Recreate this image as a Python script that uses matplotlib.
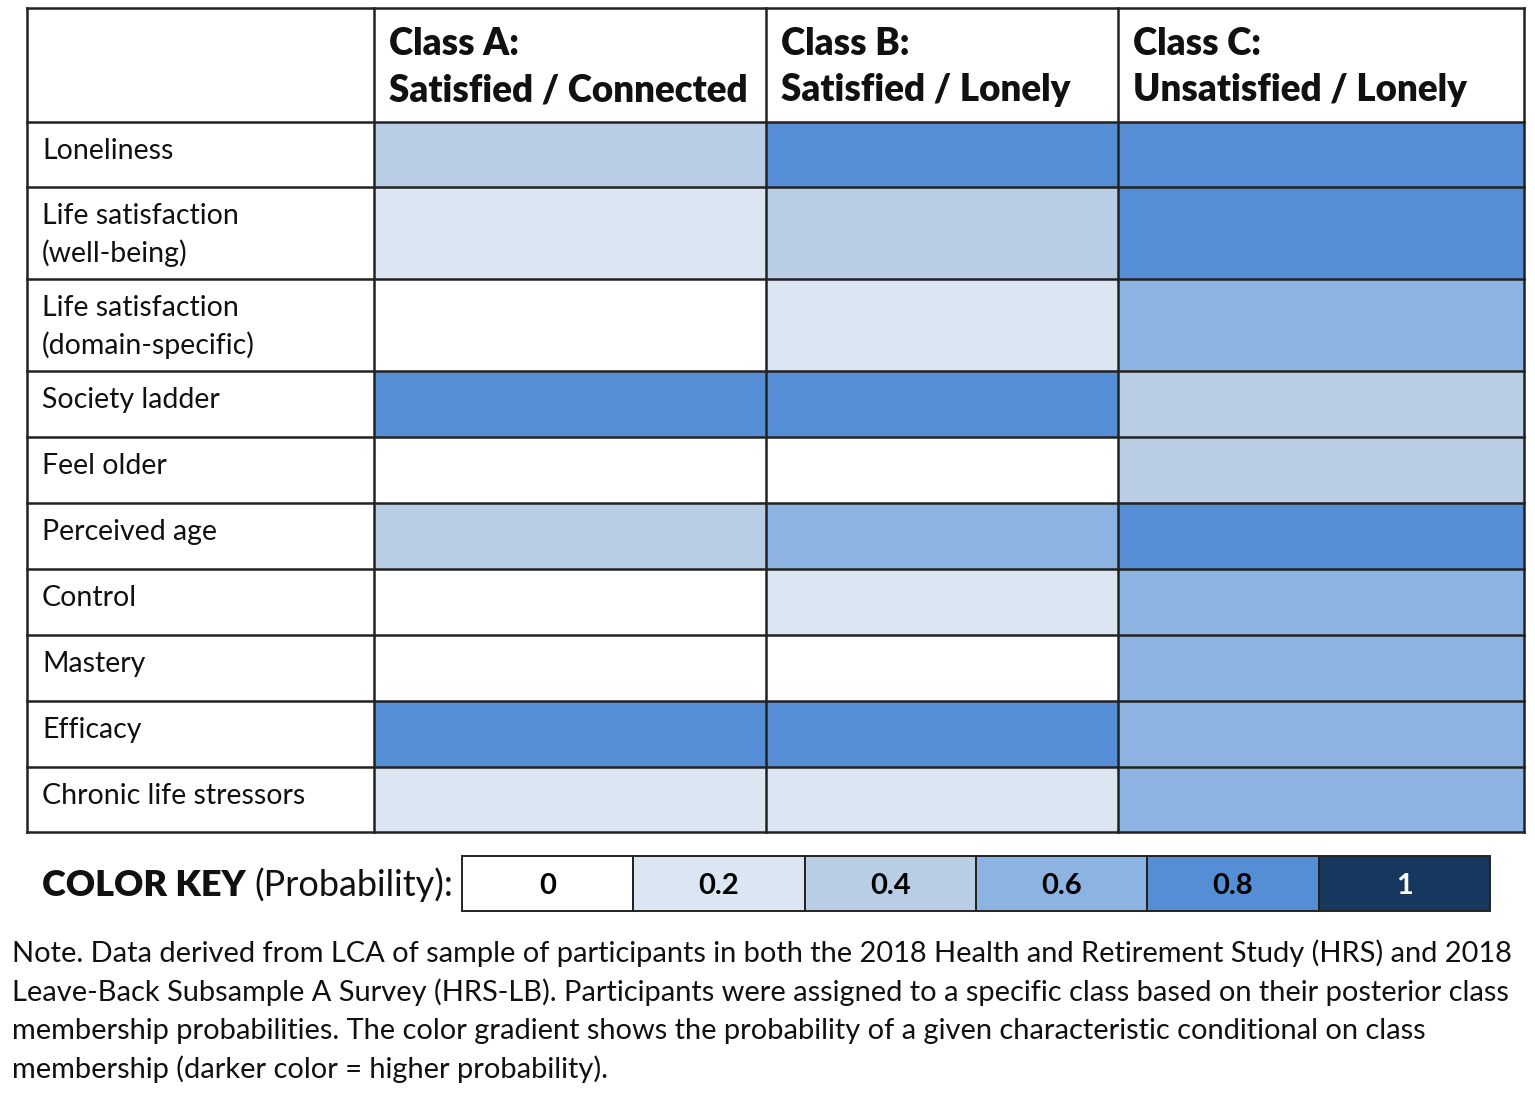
import numpy as np
import matplotlib.pyplot as plt
from matplotlib.patches import Rectangle

# -----------------------------
# Data
# -----------------------------
class_titles = [["Class A:", "Satisfied / Connected"],
                ["Class B:", "Satisfied / Lonely"],
                ["Class C:", "Unsatisfied / Lonely"]]

row_labels = [["Loneliness"],
              ["Life satisfaction", "(well-being)"],
              ["Life satisfaction", "(domain-specific)"],
              ["Society ladder"],
              ["Feel older"],
              ["Perceived age"],
              ["Control"],
              ["Mastery"],
              ["Efficacy"],
              ["Chronic life stressors"]]

# probability level per cell, one list per class
class_a = [0.4, 0.2, 0.0, 0.8, 0.0, 0.4, 0.0, 0.0, 0.8, 0.2]
class_b = [0.8, 0.4, 0.2, 0.8, 0.0, 0.6, 0.2, 0.0, 0.8, 0.2]
class_c = [0.8, 0.8, 0.6, 0.4, 0.4, 0.8, 0.6, 0.6, 0.6, 0.6]

key_levels = [0, 0.2, 0.4, 0.6, 0.8, 1]
key_labels = ["0", "0.2", "0.4", "0.6", "0.8", "1"]
key_colors = ["#ffffff", "#dce6f2", "#b9cde5", "#8db3e2", "#558ed5", "#17375e"]

note_lines = [
    "Note. Data derived from LCA of sample of participants in both the 2018 Health and Retirement Study (HRS) and 2018",
    "Leave-Back Subsample A Survey (HRS-LB). Participants were assigned to a specific class based on their posterior class",
    "membership probabilities. The color gradient shows the probability of a given characteristic conditional on class",
    "membership (darker color = higher probability).",
]

# -----------------------------
# Layout (pixel units)
# -----------------------------
W, H = 1535, 1093
col_edges = [27, 374, 766, 1118, 1524]
row_edges = [8, 122, 187, 279, 371, 437, 503, 569, 635, 701, 767, 832]
key_x0, key_x1, key_y0, key_y1 = 462, 1490, 856, 911

FONT = "Lato"
color_of = dict(zip(key_levels, key_colors))
values = np.array([class_a, class_b, class_c]).T

fig = plt.figure(figsize=(W / 100, H / 100), dpi=100)
ax = fig.add_axes([0, 0, 1, 1])
ax.set_xlim(0, W)
ax.set_ylim(H, 0)
ax.axis("off")

# cells + row labels
for i, lines in enumerate(row_labels):
    y0, y1 = row_edges[i + 1], row_edges[i + 2]
    for j in range(3):
        x0, x1 = col_edges[j + 1], col_edges[j + 2]
        ax.add_patch(Rectangle((x0, y0), x1 - x0, y1 - y0,
                               facecolor=color_of[values[i, j]],
                               edgecolor="none"))
    for k, line in enumerate(lines):
        ax.text(col_edges[0] + 15, y0 + 37 + k * 38, line, fontsize=20.5,
                fontname=FONT, va="baseline", ha="left", color="#111111")

# headers
for j, lines in enumerate(class_titles):
    for k, line in enumerate(lines):
        ax.text(col_edges[j + 1] + 15, row_edges[0] + 47 + k * 46, line,
                fontsize=26.5, fontname=FONT, fontweight="heavy",
                va="baseline", ha="left", color="#111111")

# grid lines
for x in col_edges:
    ax.plot([x, x], [row_edges[0], row_edges[-1]], color="#222222", lw=1.8,
            solid_capstyle="projecting")
for y in row_edges:
    ax.plot([col_edges[0], col_edges[-1]], [y, y], color="#222222", lw=1.8,
            solid_capstyle="projecting")

# color key
t1 = ax.text(42, 896, "COLOR KEY ", fontsize=26, fontname=FONT,
             fontweight="heavy", va="baseline", ha="left", color="#111111")
ax.annotate("(Probability):", xy=(1, 0), xycoords=t1, fontsize=26,
            fontname=FONT, va="bottom", ha="left", color="#111111")
kw = (key_x1 - key_x0) / len(key_levels)
for k, (lab, c) in enumerate(zip(key_labels, key_colors)):
    x0 = key_x0 + k * kw
    ax.add_patch(Rectangle((x0, key_y0), kw, key_y1 - key_y0,
                           facecolor=c, edgecolor="#222222", lw=1.4))
    ax.text(x0 + kw / 2, 894, lab, fontsize=21, fontname=FONT,
            fontweight="bold", va="baseline", ha="center",
            color="white" if lab == "1" else "black")

# note
for k, line in enumerate(note_lines):
    ax.text(12, 962 + k * 38.7, line, fontsize=20.9, fontname=FONT,
            va="baseline", ha="left", color="#111111")

fig.savefig("out.png", dpi=100)
